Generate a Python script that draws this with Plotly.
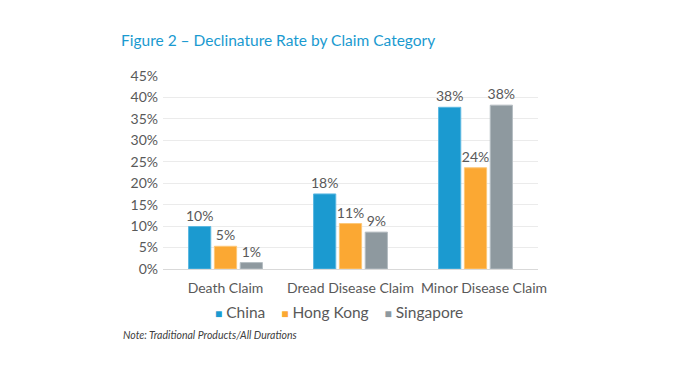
import plotly.graph_objects as go

categories = ["Death Claim", "Dread Disease Claim", "Minor Disease Claim"]
china = [9.9, 17.5, 37.7]
hong_kong = [5.3, 10.6, 23.6]
singapore = [1.5, 8.6, 38.2]
labels_china = ["10%", "18%", "38%"]
labels_hk = ["5%", "11%", "24%"]
labels_sg = ["1%", "9%", "38%"]
tick_vals = [0, 5, 10, 15, 20, 25, 30, 35, 40, 45]
tick_text = ["0%", "5%", "10%", "15%", "20%", "25%", "30%", "35%", "40%", "45%"]
category_tick_pos = [0, 1, 2.068]

FONT = "Lato"
GREY = "#595959"
OFF = 8  # default page body margin offset

series = [
    ("China", china, labels_china, "#1B9AD0", "#5BB8E2"),
    ("Hong Kong", hong_kong, labels_hk, "#FBA833", "#FDC878"),
    ("Singapore", singapore, labels_sg, "#8E999F", "#B5BDC2"),
]

fig = go.Figure()
for name, vals, labs, col, edge in series:
    fig.add_trace(go.Bar(
        name=name, x=categories, y=vals, text=labs,
        textposition="outside", cliponaxis=False, constraintext="none",
        textfont=dict(family=FONT, size=14, color=GREY),
        marker=dict(color=col, line=dict(color=edge, width=1)),
        showlegend=False,
    ))

legend_html = "&nbsp;&nbsp;&nbsp;&nbsp;".join(
    f"<span style='color:{col};font-size:12px'>■</span> {name}"
    for name, _, _, col, _ in series
)

W, H = 674 - OFF, 380 - OFF
fig.update_layout(
    width=W, height=H,
    margin=dict(l=163 - OFF, r=136, t=76 - OFF, b=111, autoexpand=False),
    paper_bgcolor="white", plot_bgcolor="white",
    barmode="group", bargap=0.38, bargroupgap=0.14,
    font=dict(family=FONT, color=GREY, size=14),
    title=dict(text="Figure 2 – Declinature Rate by Claim Category",
               x=(121 - OFF) / W, xanchor="left", xref="container",
               y=1 - (41 - OFF) / H, yanchor="middle", yref="container",
               font=dict(family=FONT, size=15.5, color="#1A9AD0")),
    showlegend=False,
    yaxis=dict(range=[0, 45], tickvals=tick_vals, ticktext=tick_text, automargin=False,
               showgrid=True, gridcolor="#EBEBEB", gridwidth=1,
               zeroline=True, zerolinecolor="#D9D9D9", zerolinewidth=1,
               tickfont=dict(family=FONT, size=14, color=GREY), ticklabelstandoff=4),
    xaxis=dict(showline=False, tickangle=0, automargin=False,
               tickmode="array", tickvals=category_tick_pos, ticktext=categories,
               ticklabelstandoff=9,
               tickfont=dict(family=FONT, size=14, color=GREY)),
    annotations=[
        dict(text=legend_html, xref="paper", yref="paper",
             x=(339 - 163) / 375, y=(269 - 312) / 193,
             xanchor="center", yanchor="middle", showarrow=False,
             font=dict(family=FONT, size=15.5, color=GREY)),
        dict(text="<i>Note: Traditional Products/All Durations</i>",
             xref="paper", yref="paper", x=(121 - 163) / 375, y=(269 - 335) / 193,
             xanchor="left", yanchor="middle", showarrow=False,
             font=dict(family=FONT, size=10.5, color="#404040")),
    ],
)

fig.write_html("out.html")
